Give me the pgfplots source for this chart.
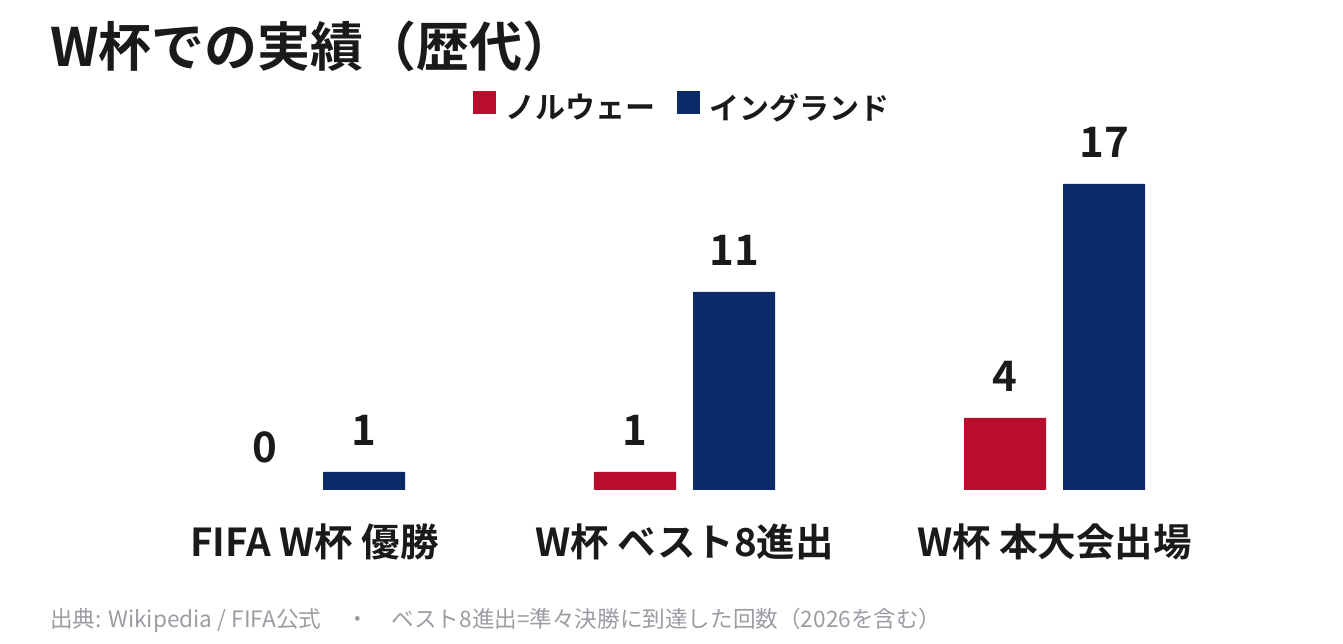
\documentclass[border=0pt]{standalone}
\usepackage{fontspec}
\setmainfont{Noto Sans CJK JP}[BoldFont={Noto Sans CJK JP Bold}]
\usepackage{pgfplots}
\pgfplotsset{compat=1.18}
\definecolor{nor}{HTML}{BA0C2F}
\definecolor{eng}{HTML}{0B2A68}
\definecolor{txt}{HTML}{1A1A1A}
\definecolor{foot}{HTML}{9A9DA3}
\begin{document}
\begin{tikzpicture}[x=1pt,y=1pt]
\path[use as bounding box] (0,0) rectangle (1343,644);
\node[anchor=base west, inner sep=0pt, text=txt, font=\fontsize{53}{60}\selectfont\bfseries] at (50,577) {W杯での実績（歴代）};
\begin{axis}[
  at={(0pt,154pt)}, anchor=south west,
  width=1343pt, height=360pt, scale only axis,
  xmin=-0.85, xmax=2.7797, ymin=0, ymax=20,
  axis x line=bottom, axis y line=none,
  x axis line style={draw=none},
  major tick length=0pt,
  ytick=\empty,
  xtick={0,1,2},
  xticklabels={FIFA W杯 優勝, W杯 ベスト8進出, W杯 本大会出場},
  xticklabel style={anchor=base, yshift=-67pt, inner sep=0pt, text=txt, font=\fontsize{38.5}{42}\selectfont\bfseries},
  ybar, bar width=82pt,
  clip=false,
  /pgf/number format/assume math mode=true,
  nodes near coords,
  every node near coord/.append style={anchor=south, inner sep=0pt, yshift=26.5pt, text=txt, font=\fontsize{42}{46}\selectfont\bfseries},
  legend columns=2,
  legend style={at={(axis description cs:0.5071,1.0667)}, anchor=center, draw=none, fill=none,
    inner sep=0pt, font=\fontsize{30}{34}\selectfont\bfseries, text=txt,
    nodes={inner sep=0pt},
    /tikz/every odd column/.append style={column sep=9pt},
    /tikz/every even column/.append style={column sep=22pt}},
]
\addplot[fill=nor, draw=none, bar shift=-49.5pt, legend image code/.code={\fill[nor] (0pt,-7pt) rectangle (23pt,16pt);}] coordinates {(1,1) (2,4)};
\addplot[fill=eng, draw=none, bar shift=49.5pt, legend image code/.code={\fill[eng] (0pt,-7pt) rectangle (23pt,16pt);}] coordinates {(0,1) (1,11) (2,17)};
\addplot[fill=none, draw=none, bar shift=-49.5pt, forget plot] coordinates {(0,0)};
\legend{ノルウェー, イングランド}
\end{axis}
\node[anchor=base west, inner sep=0pt, text=foot, font=\fontsize{22.6}{26}\selectfont] at (50,16) {出典: Wikipedia / FIFA公式\hspace{1.1em}・\hspace{1em}ベスト8進出=準々決勝に到達した回数（2026を含む）};
\end{tikzpicture}
\end{document}
